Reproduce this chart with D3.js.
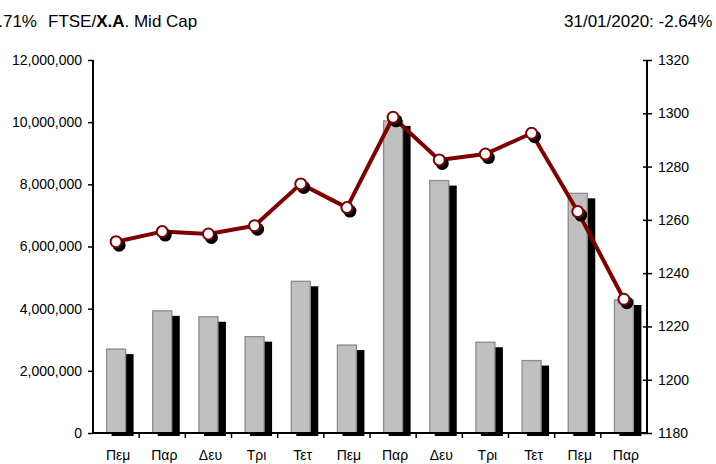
<!DOCTYPE html>
<html>
<head>
<meta charset="utf-8">
<script src="https://cdn.jsdelivr.net/npm/d3@7"></script>
<style>
  body { margin: 0; background: #fff; }
  text { font-family: "Liberation Sans", Arial, sans-serif; }
</style>
</head>
<body>
<div id="chart"></div>
<script>
// data
let days = ['Πεμ', 'Παρ', 'Δευ', 'Τρι', 'Τετ', 'Πεμ', 'Παρ', 'Δευ', 'Τρι', 'Τετ', 'Πεμ', 'Παρ'];
let volume = [2700000, 3930000, 3740000, 3100000, 4880000, 2830000, 10040000, 8120000, 2920000, 2330000, 7710000, 4280000];
let index = [1251.8, 1255.6, 1254.7, 1257.8, 1273.5, 1264.6, 1298.5, 1282.5, 1284.7, 1292.5, 1263.1, 1230.2];
let volTicks = [0, 2000000, 4000000, 6000000, 8000000, 10000000, 12000000];
let idxTicks = [1180, 1200, 1220, 1240, 1260, 1280, 1300, 1320];

let width = 716, height = 464,
    margin = {left: 93, top: 60, right: 69, bottom: 31},
    w = width - margin.left - margin.right,
    h = height - margin.top - margin.bottom;

let svg = d3.select('#chart').append('svg')
    .attr('width', width)
    .attr('height', height);

// titles
svg.append('text')
    .attr('x', 37)
    .attr('y', 27)
    .attr('text-anchor', 'end')
    .style('font-size', '17px')
    .text('-0.71%');
let t2 = svg.append('text')
    .attr('x', 48)
    .attr('y', 27)
    .style('font-size', '17px');
t2.append('tspan').text('FTSE/');
t2.append('tspan').attr('font-weight', 'bold').text('X.A');
t2.append('tspan').text('. Mid Cap');

svg.append('text')
    .attr('x', 564)
    .attr('y', 27)
    .style('font-size', '17px')
    .text('31/01/2020: -2.64%');

let g = svg.append('g')
    .attr('transform', `translate(${margin.left}, ${margin.top})`);

let x = d3.scaleBand()
    .domain(d3.range(days.length))
    .range([0, w]);

let yVol = d3.scaleLinear()
    .domain([0, 12000000])
    .range([h, 0]);

let yIdx = d3.scaleLinear()
    .domain([1180, 1320])
    .range([h, 0]);

// bars: shadow first, then grey bar
let barW = 19;
let bars = g.append('g');
bars.selectAll('rect.shadow')
    .data(volume)
    .join('rect')
    .attr('class', 'shadow')
    .attr('x', (d, i) => x(i) + x.bandwidth() / 2 - barW / 2 + 5)
    .attr('y', d => yVol(d) + 5)
    .attr('width', barW + 3)
    .attr('height', d => h - yVol(d) - 2)
    .attr('fill', '#000');

bars.selectAll('rect.bar')
    .data(volume)
    .join('rect')
    .attr('class', 'bar')
    .attr('x', (d, i) => x(i) + x.bandwidth() / 2 - barW / 2)
    .attr('y', d => yVol(d))
    .attr('width', barW)
    .attr('height', d => h - yVol(d))
    .attr('fill', '#c0c0c0')
    .attr('stroke', '#8c8c8c')
    .attr('stroke-width', 1.3);

// axes
let leftAxis = g.append('g')
    .call(d3.axisLeft(yVol).tickValues(volTicks).tickFormat(d3.format(',')).tickSize(5).tickPadding(6));

let rightAxis = g.append('g')
    .attr('transform', `translate(${w}, 0)`)
    .call(d3.axisRight(yIdx).tickValues(idxTicks).tickFormat(d3.format('d')).tickSize(5).tickPadding(6));
rightAxis.selectAll('.tick line').attr('x1', -4);

let bottomAxis = g.append('g')
    .attr('transform', `translate(0, ${h})`)
    .call(d3.axisBottom(x).tickSize(0).tickFormat(i => days[i]).tickPadding(17));
bottomAxis.selectAll('.tick text').attr('x', 2);

// category separator ticks on the x axis
g.append('g').selectAll('line')
    .data(d3.range(1, days.length))
    .join('line')
    .attr('x1', i => x(i)).attr('x2', i => x(i))
    .attr('y1', h).attr('y2', h + 5)
    .attr('stroke', '#000')
    .attr('stroke-width', 1.5);

[leftAxis, rightAxis, bottomAxis].forEach(a => {
    a.attr('font-size', null).attr('font-family', null);
    a.selectAll('.domain').attr('stroke', '#000').attr('stroke-width', 2);
    a.selectAll('.tick line').attr('stroke', '#000').attr('stroke-width', 1.5);
    a.selectAll('text')
        .style('font-size', '14px')
        .style('font-family', '"Liberation Sans", Arial, sans-serif')
        .attr('fill', '#000');
});
bottomAxis.select('.domain').attr('d', `M0,0H${w}`);
leftAxis.select('.domain').attr('d', `M0,0V${h}`);
rightAxis.select('.domain').attr('d', `M0,0V${h}`);

// index line
let line = d3.line()
    .x((d, i) => x(i) + x.bandwidth() / 2)
    .y(d => yIdx(d));

g.append('path')
    .datum(index)
    .attr('d', line)
    .attr('fill', 'none')
    .attr('stroke', '#800000')
    .attr('stroke-width', 4)
    .attr('stroke-linejoin', 'round');

let mk = g.append('g');
mk.selectAll('circle.sh')
    .data(index)
    .join('circle')
    .attr('class', 'sh')
    .attr('cx', (d, i) => x(i) + x.bandwidth() / 2 + 3)
    .attr('cy', d => yIdx(d) + 3.5)
    .attr('r', 6.5)
    .attr('fill', '#000');

mk.selectAll('circle.pt')
    .data(index)
    .join('circle')
    .attr('class', 'pt')
    .attr('cx', (d, i) => x(i) + x.bandwidth() / 2)
    .attr('cy', d => yIdx(d))
    .attr('r', 5.5)
    .attr('fill', '#fff')
    .attr('stroke', '#800000')
    .attr('stroke-width', 2);
</script>
</body>
</html>
